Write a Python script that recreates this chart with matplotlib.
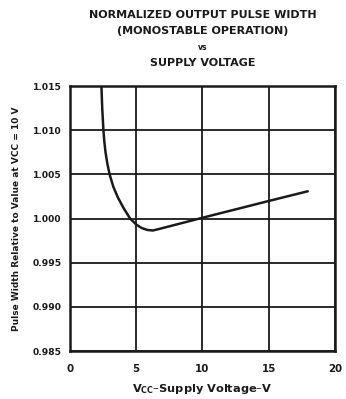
import matplotlib
matplotlib.use("Agg")
import matplotlib.pyplot as plt

# Normalized output pulse width vs supply voltage (monostable operation)
vcc = [2.38, 2.44, 2.53, 2.60, 2.69, 2.83, 3.00, 3.28, 3.62, 4.05, 4.55, 5.0, 5.4, 5.85, 6.25, 6.6,
       10.0, 15.0, 17.95]
pulse_ratio = [1.015, 1.0125, 1.010, 1.0087, 1.0075, 1.0062, 1.005, 1.0036, 1.0024, 1.0012, 1.0000,
               0.99935, 0.99895, 0.99872, 0.99866, 0.99878, 1.0001, 1.0020, 1.0031]

x_ticks = [0, 5, 10, 15, 20]
y_ticks = [0.985, 0.990, 0.995, 1.000, 1.005, 1.010, 1.015]
y_tick_labels = ["0.985", "0.990", "0.995", "1.000", "1.005", "1.010", "1.015"]

fig = plt.figure(figsize=(3.46, 3.99), dpi=100)
ax = fig.add_axes([0.202, 0.120, 0.766, 0.664])

ax.plot(vcc, pulse_ratio, color="#1a1a1a", lw=1.8, solid_capstyle="round",
        solid_joinstyle="round")

ax.set_xlim(0, 20)
ax.set_ylim(0.985, 1.015)
ax.set_xticks(x_ticks)
ax.set_yticks(y_ticks)
ax.set_yticklabels(y_tick_labels)
ax.tick_params(length=0, colors="#1a1a1a")
ax.tick_params(axis="x", pad=9, labelsize=7.4)
ax.tick_params(axis="y", pad=6, labelsize=6.6)
for lab in ax.get_xticklabels() + ax.get_yticklabels():
    lab.set_fontweight("heavy")

ax.grid(True, color="#1a1a1a", lw=1.3)
for s in ax.spines.values():
    s.set_linewidth(1.8)
    s.set_color("#1a1a1a")

ax.set_xlabel(r"V$_{\mathbf{CC}}$–Supply Voltage–V", fontsize=8.2, fontweight="heavy",
              color="#1a1a1a", labelpad=6)
ax.set_ylabel("Pulse Width Relative to Value at VCC = 10 V", fontsize=6.5,
              fontweight="heavy", color="#1a1a1a", labelpad=8)

title_lines = ["NORMALIZED OUTPUT PULSE WIDTH", "(MONOSTABLE OPERATION)", "vs", "SUPPLY VOLTAGE"]
title_y = [15, 31, 47, 63]
for txt, yp in zip(title_lines, title_y):
    fig.text(203 / 346, 1 - yp / 399, txt, ha="center", va="center",
             fontsize=8.0 if txt != "vs" else 5.5, fontweight="heavy", color="#1a1a1a")

fig.savefig("out.png", dpi=100)
